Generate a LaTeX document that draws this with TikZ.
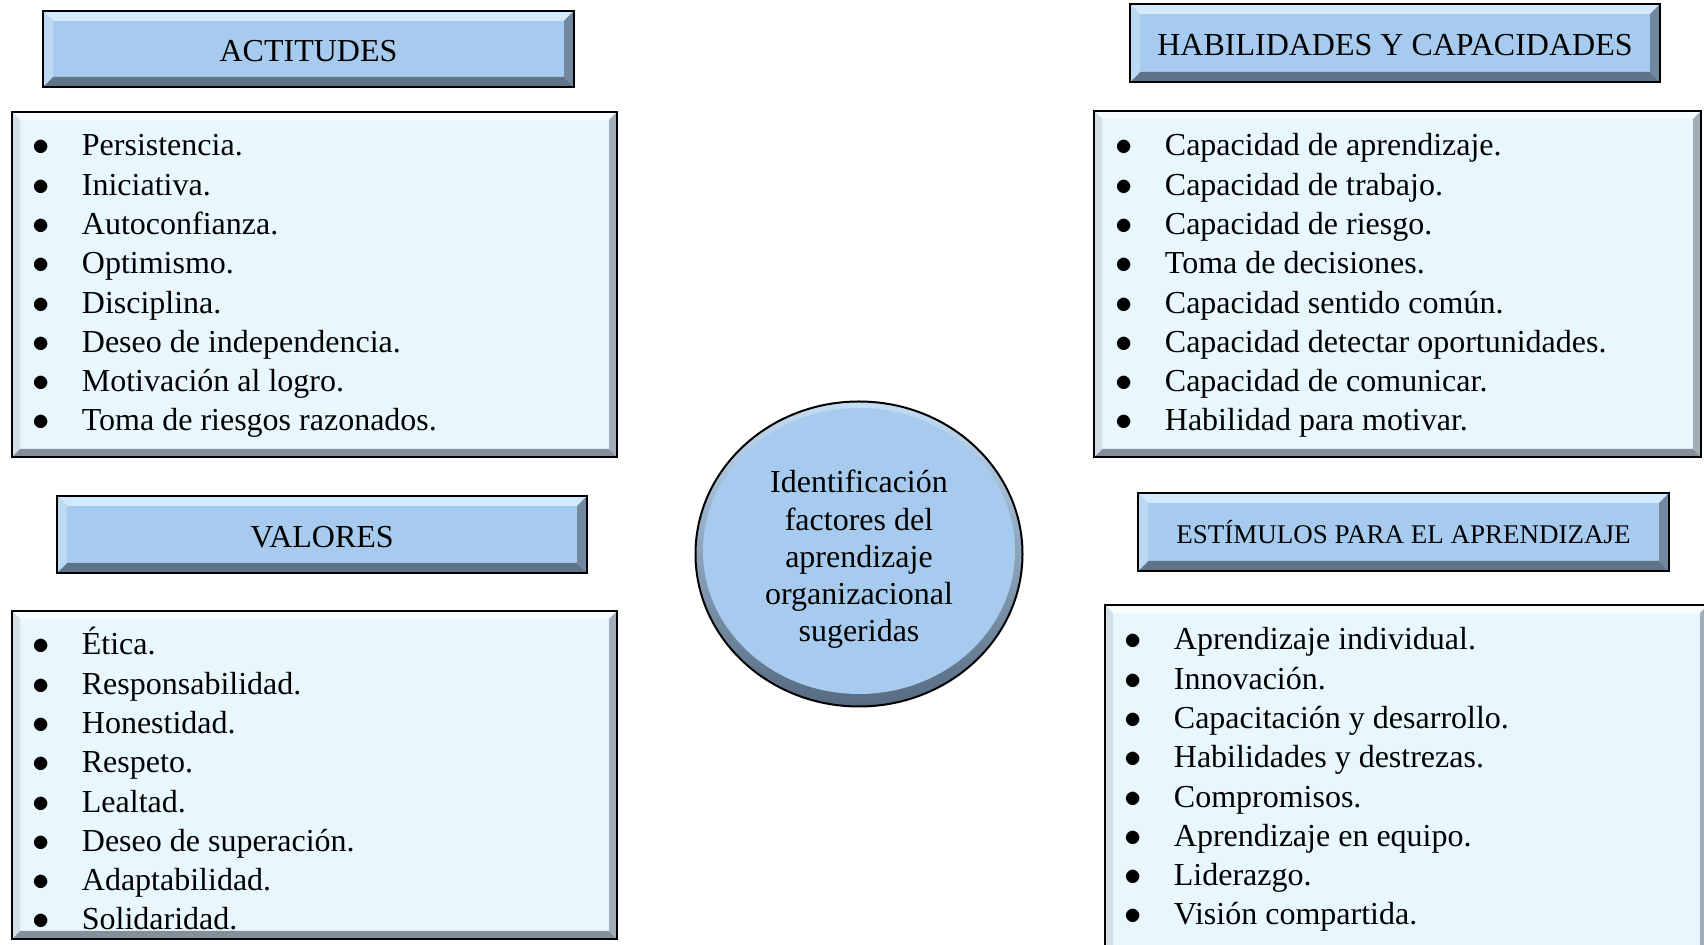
\documentclass[tikz,border=0pt]{standalone}
\usepackage{fontspec}
\setmainfont{Liberation Serif}
\usepackage{array}
\usetikzlibrary{shapes.geometric}

\definecolor{headfill}{HTML}{A7CBEE}
\definecolor{headtop}{HTML}{D2EAFB}
\definecolor{headleft}{HTML}{BCD9F3}
\definecolor{headbot}{HTML}{5F7389}
\definecolor{headright}{HTML}{71889F}
\definecolor{listfill}{HTML}{E8F6FD}
\definecolor{listtop}{HTML}{F7FCFF}
\definecolor{listleft}{HTML}{D3DEE6}
\definecolor{listbot}{HTML}{858F99}
\definecolor{listright}{HTML}{A3ADB7}
\definecolor{rimtop}{HTML}{C3DDF4}
\definecolor{rimbot}{HTML}{566B82}

\newcolumntype{B}{>{\makebox[24.5pt][l]{$\bullet$}}l}

\tikzset{
  bevel/.style n args={5}{path picture={
      \fill[#2] (path picture bounding box.north west) -- (path picture bounding box.north east)
        -- ([shift={(-#1,-#1)}]path picture bounding box.north east)
        -- ([shift={(#1,-#1)}]path picture bounding box.north west) -- cycle;
      \fill[#4] (path picture bounding box.south west) -- (path picture bounding box.south east)
        -- ([shift={(-#1,#1)}]path picture bounding box.south east)
        -- ([shift={(#1,#1)}]path picture bounding box.south west) -- cycle;
      \fill[#3] (path picture bounding box.north west) -- (path picture bounding box.south west)
        -- ([shift={(#1,#1)}]path picture bounding box.south west)
        -- ([shift={(#1,-#1)}]path picture bounding box.north west) -- cycle;
      \fill[#5] (path picture bounding box.north east) -- (path picture bounding box.south east)
        -- ([shift={(-#1,#1)}]path picture bounding box.south east)
        -- ([shift={(-#1,-#1)}]path picture bounding box.north east) -- cycle;
    }},
  head/.style={rectangle, draw=black, line width=1pt, fill=headfill,
    bevel={5pt}{headtop}{headleft}{headbot}{headright},
    text height=12.8pt, text depth=0pt,
    font=\fontsize{16}{19}\selectfont},
  listbox/.style={rectangle, draw=black, line width=1pt, fill=listfill,
    bevel={4pt}{listtop}{listleft}{listbot}{listright}},
  items/.style={anchor=base west, inner sep=0pt, font=\fontsize{16}{19.64}\selectfont},
  centro/.style={ellipse, draw=black, line width=1pt, inner sep=0pt,
    minimum width=163.5pt, minimum height=152.5pt,
    top color=rimtop, bottom color=rimbot,
    path picture={\fill[headfill] ([yshift=1.5pt]path picture bounding box.center) ellipse (78pt and 71.5pt);}},
  centrotext/.style={align=center, inner sep=0pt, font=\fontsize{16}{18.6}\selectfont}
}

\begin{document}
\begin{tikzpicture}[x=0.5pt, y=-0.5pt]
  \useasboundingbox (0,0) rectangle (1704,945);

  % boxes
  \node[head, minimum width=265.5pt, minimum height=38pt] (act) at (308.5,49) {ACTITUDES};
  \node[listbox, minimum width=302.5pt, minimum height=172.5pt] (actlist) at (314.5,284.5) {};
  \node[head, minimum width=265pt, minimum height=38.5pt] (val) at (322,534.5) {VALORES};
  \node[listbox, minimum width=302.5pt, minimum height=164pt] (vallist) at (314.5,775) {};
  \node[head, minimum width=265pt, minimum height=39pt] (hab) at (1395,43) {HABILIDADES Y CAPACIDADES};
  \node[listbox, minimum width=303.5pt, minimum height=173pt] (hablist) at (1397.5,284) {};
  \node[head, minimum width=265.5pt, minimum height=39pt, text height=11.6pt, text depth=0pt,
    font=\fontsize{13.5}{16}\selectfont] (est) at (1403.5,532) {ESTÍMULOS PARA EL APRENDIZAJE};
  \node[listbox, minimum width=301.5pt, minimum height=177.5pt] (estlist) at (1406.5,782.5) {};

  \node[centro] (centro) at (859,554) {};
  \node[centrotext] (centrotxt) at ([yshift=-2.7pt]centro.center)
    {Identificación\\factores del\\aprendizaje\\organizacional\\sugeridas};

  % lists
  \node[items] (actitems) at (32.5,156) {\begin{tabular}[t]{@{}B@{}}
    Persistencia.\\ Iniciativa.\\ Autoconfianza.\\ Optimismo.\\ Disciplina.\\
    Deseo de independencia.\\ Motivación al logro.\\ Toma de riesgos razonados.
  \end{tabular}};
  \node[items] (valitems) at (32.5,655) {\begin{tabular}[t]{@{}B@{}}
    Ética.\\ Responsabilidad.\\ Honestidad.\\ Respeto.\\ Lealtad.\\
    Deseo de superación.\\ Adaptabilidad.\\ Solidaridad.
  \end{tabular}};
  \node[items] (habitems) at (1115.5,156) {\begin{tabular}[t]{@{}B@{}}
    Capacidad de aprendizaje.\\ Capacidad de trabajo.\\ Capacidad de riesgo.\\
    Toma de decisiones.\\ Capacidad sentido común.\\ Capacidad detectar oportunidades.\\
    Capacidad de comunicar.\\ Habilidad para motivar.
  \end{tabular}};
  \node[items] (estitems) at (1124.5,650) {\begin{tabular}[t]{@{}B@{}}
    Aprendizaje individual.\\ Innovación.\\ Capacitación y desarrollo.\\
    Habilidades y destrezas.\\ Compromisos.\\ Aprendizaje en equipo.\\
    Liderazgo.\\ Visión compartida.
  \end{tabular}};
\end{tikzpicture}
\end{document}
